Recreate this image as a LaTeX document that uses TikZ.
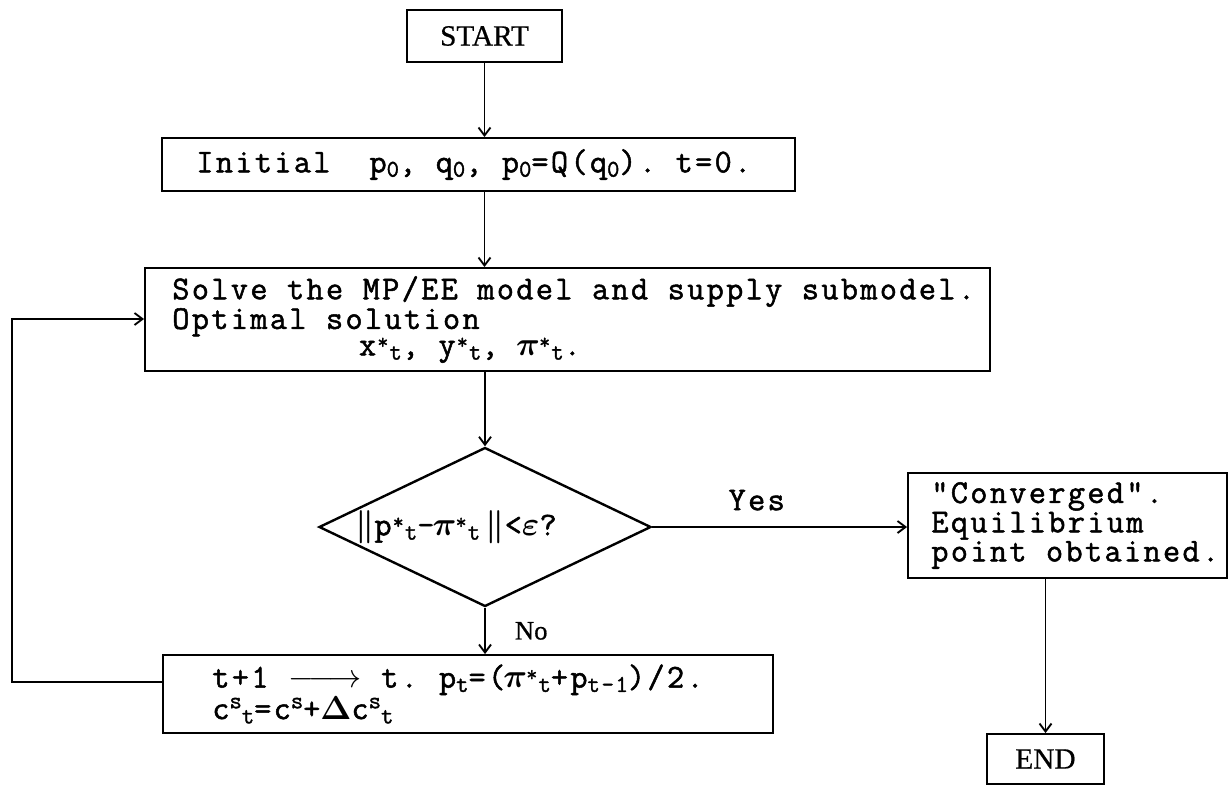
\documentclass[tikz,border=0pt]{standalone}
\usepackage{fontspec}
\usepackage{amsmath,amsbsy}
\usetikzlibrary{shapes.geometric,arrows.meta}

% typewriter face for the box texts, serif face for START / END / No
\newfontfamily\tw[FakeBold=1.5,LetterSpace=7]{Latin Modern Mono}
\newfontfamily\serifT[FakeBold=0.6]{Liberation Serif}
\newcommand\mainsize{\fontsize{25pt}{18pt}\selectfont}

% small lowered index, raised star, raised superscript
\newcommand\sbs[1]{\raisebox{-0.3ex}{\fontsize{18pt}{18pt}\selectfont #1}}
\newcommand\st{\makebox[10pt]{\raisebox{0.45ex}{\fontsize{16pt}{16pt}\selectfont *}}}
\newcommand\sps[1]{\raisebox{0.75ex}{\fontsize{18pt}{18pt}\selectfont #1}}
\newcommand\gpi{\makebox[15pt]{\(\boldsymbol{\pi}\)}}

\begin{document}
\begin{tikzpicture}[x=0.75pt,y=-0.75pt,
  box/.style={draw, line width=1.4pt, inner sep=0pt},
  boxtext/.style={anchor=west, inner sep=0pt, align=left, font=\tw\mainsize},
  decision/.style={draw, diamond, line width=1.8pt, inner sep=0pt},
  conn/.style={line width=0.9pt},
  arr/.style={conn, -{Straight Barb[length=6pt,width=9pt,line width=1.4pt]}},
  lbl/.style={inner sep=0pt}]

\useasboundingbox (0,0) rectangle (1230,785);

% ---- boxes ----
\node[box, minimum width=116.25pt, minimum height=39pt,
      font=\serifT\fontsize{22pt}{22pt}\selectfont] (start) at (484.5,36) {START};

\node[box, minimum width=474.75pt, minimum height=39.75pt,
      label={[boxtext, xshift=26.25pt]west:{Initial\ \ p\sbs{0}, q\sbs{0}, p\sbs{0}=Q(q\sbs{0}).\ t=0.}}]
      (init) at (478.5,164.5) {};

\node[box, minimum width=633.75pt, minimum height=77.25pt,
      label={[boxtext, xshift=21pt]west:{Solve the MP/EE model and supply submodel.\\
        Optimal solution\\
        \hspace*{140pt}x\st\sbs{t}, y\st\sbs{t}, \gpi\st\sbs{t}.}}]
      (solve) at (567.5,319.5) {};

\node[decision, minimum width=249pt, minimum height=119.25pt,
      label={[lbl, font=\tw\mainsize, xshift=-21.75pt]center:{\(\boldsymbol{\|}\)p\st\sbs{t}-\gpi\st\sbs{t}\,\(\boldsymbol{\|}\)<\(\boldsymbol{\varepsilon}\)?}}]
      (dia) at (485,527) {};

\node[box, minimum width=239.25pt, minimum height=78.75pt,
      label={[boxtext, xshift=18pt]west:{"Converged".\\ Equilibrium\\ point obtained.}}]
      (conv) at (1067.5,525.5) {};

\node[box, minimum width=87.75pt, minimum height=37.5pt,
      font=\serifT\fontsize{22pt}{22pt}\selectfont] (end) at (1045.5,759) {END};

\node[box, minimum width=457.5pt, minimum height=58.5pt,
      label={[boxtext, xshift=37.5pt, font=\tw\fontsize{25pt}{20pt}\selectfont]west:{%
        \makebox[170pt][l]{t+1 \(\relbar\joinrel\longrightarrow\) t.}p\sbs{t}=(\gpi\st\sbs{t}+p\sbs{t-1})/2.\\
        c\sps{s}\sbs{t}=c\sps{s}+\(\boldsymbol{\Delta}\)c\sps{s}\sbs{t}}}]
      (upd) at (468,694) {};

% ---- corner points of the return loop ----
\coordinate (loopA) at (12,682);
\coordinate (loopB) at (12,319);

% ---- connectors ----
\draw[arr] (start.south) -- (start.south |- init.north);
\draw[arr] (start.south |- init.south) -- (start.south |- solve.north);
\draw[arr] (dia.north |- solve.south) -- (dia.north);
\draw[arr] (dia.east) -- (dia.east -| conv.west)
  node[lbl, font=\tw\mainsize, pos=0.41, above=12pt] (yes) {Yes};
\draw[arr] (dia.south) -- (dia.south |- upd.north)
  node[lbl, font=\serifT\fontsize{20pt}{20pt}\selectfont, pos=0.5, right=22pt] (no) {No};
\draw[arr] (end.north |- conv.south) -- (end.north);
\draw[arr] (loopA -| upd.west) -- (loopA) -- (loopB) -- (loopB -| solve.west);

\end{tikzpicture}
\end{document}
